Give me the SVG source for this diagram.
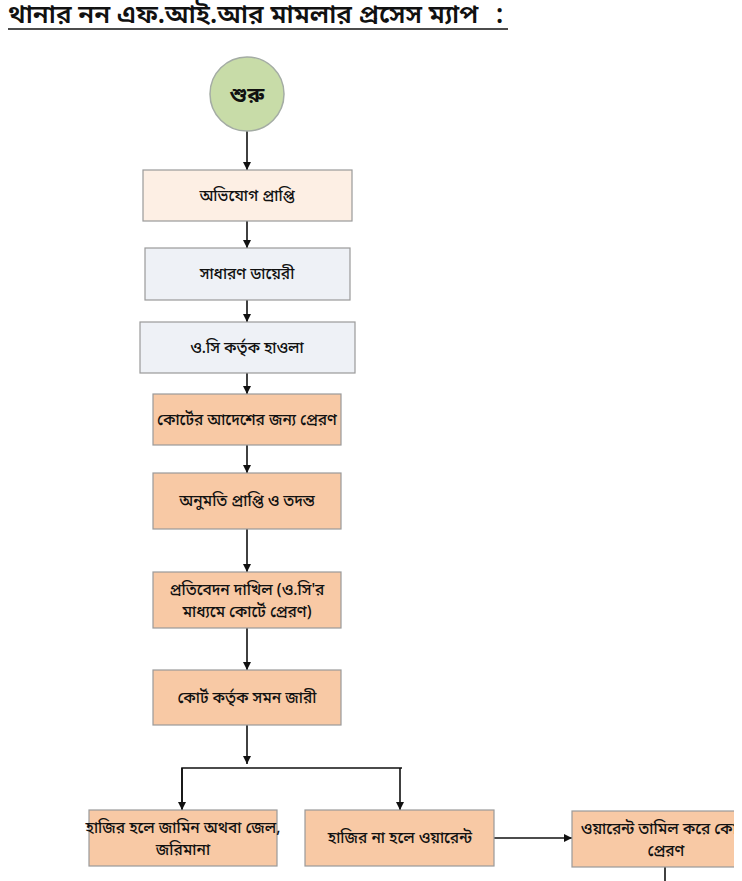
<svg xmlns="http://www.w3.org/2000/svg" width="742" height="881" viewBox="0 0 742 881">
<style>
  text { font-family: "Noto Sans Bengali", "Noto Serif Bengali", "Noto Sans", "DejaVu Sans", sans-serif; fill: #111; text-anchor: middle; }
  .title { font-size: 26px; text-anchor: start; font-weight: 600; }
  .lbl { font-size: 15.5px; font-weight: 500; }
  .box-cream { fill: #fdefe4; stroke: #9a9a9a; stroke-width: 1.2; }
  .box-blue { fill: #eef1f6; stroke: #9a9a9a; stroke-width: 1.2; }
  .box-peach { fill: #f8c9a5; stroke: #9a9a9a; stroke-width: 1.2; }
  .conn { stroke: #111; stroke-width: 1.6; fill: none; }
</style>
<defs>
  <marker id="arr" viewBox="0 0 10 10" refX="10" refY="5" markerWidth="8" markerHeight="8" markerUnits="userSpaceOnUse" orient="auto">
    <path d="M0,0 L10,5 L0,10 z" fill="#111"/>
  </marker>
  <clipPath id="edge"><rect x="0" y="0" width="734" height="881"/></clipPath>
</defs>
<rect x="0" y="0" width="742" height="881" fill="#ffffff"/>

<g id="title">
  <text class="title" x="8" y="23">থানার নন এফ.আই.আর মামলার প্রসেস ম্যাপ</text>
  <text class="title" x="496" y="23">:</text>
  <line x1="8" y1="29" x2="508" y2="29" stroke="#111" stroke-width="1.4"/>
</g>

<g id="connectors">
  <line class="conn" x1="247" y1="131" x2="247" y2="170" marker-end="url(#arr)"/>
  <line class="conn" x1="247" y1="221" x2="247" y2="248" marker-end="url(#arr)"/>
  <line class="conn" x1="247" y1="300" x2="247" y2="322" marker-end="url(#arr)"/>
  <line class="conn" x1="247" y1="373" x2="247" y2="394" marker-end="url(#arr)"/>
  <line class="conn" x1="247" y1="445" x2="247" y2="473" marker-end="url(#arr)"/>
  <line class="conn" x1="247" y1="529" x2="247" y2="572" marker-end="url(#arr)"/>
  <line class="conn" x1="247" y1="628" x2="247" y2="670" marker-end="url(#arr)"/>
  <line class="conn" x1="247" y1="725" x2="247" y2="764" marker-end="url(#arr)"/>
  <polyline class="conn" points="182,810 182,768 402,768"/>
  <line class="conn" x1="182" y1="768" x2="182" y2="810" marker-end="url(#arr)"/>
  <line class="conn" x1="400" y1="768" x2="400" y2="810" marker-end="url(#arr)"/>
  <line class="conn" x1="494" y1="838" x2="572" y2="838" marker-end="url(#arr)"/>
  <line class="conn" x1="665" y1="867" x2="665" y2="881"/>
</g>

<g id="start">
  <circle cx="247" cy="94" r="37" fill="#c8dca8" stroke="#a4aca4" stroke-width="1.5"/>
  <text x="247" y="102" style="font-size:21px;font-weight:700">শুরু</text>
</g>

<g id="n1">
  <rect class="box-cream" x="143" y="170" width="209" height="51"/>
  <text class="lbl" x="247" y="201">অভিযোগ প্রাপ্তি</text>
</g>
<g id="n2">
  <rect class="box-blue" x="145" y="248" width="205" height="52"/>
  <text class="lbl" x="247" y="279">সাধারণ ডায়েরী</text>
</g>
<g id="n3">
  <rect class="box-blue" x="140" y="322" width="215" height="51"/>
  <text class="lbl" x="247" y="353">ও.সি কর্তৃক হাওলা</text>
</g>
<g id="n4">
  <rect class="box-peach" x="153" y="394" width="188" height="51"/>
  <text class="lbl" x="247" y="425">কোর্টের আদেশের জন্য প্রেরণ</text>
</g>
<g id="n5">
  <rect class="box-peach" x="153" y="473" width="188" height="56"/>
  <text class="lbl" x="247" y="506">অনুমতি প্রাপ্তি ও তদন্ত</text>
</g>
<g id="n6">
  <rect class="box-peach" x="153" y="572" width="188" height="56"/>
  <text class="lbl" x="247" y="595">প্রতিবেদন দাখিল (ও.সি'র</text>
  <text class="lbl" x="247" y="617">মাধ্যমে কোর্টে প্রেরণ)</text>
</g>
<g id="n7">
  <rect class="box-peach" x="153" y="670" width="188" height="55"/>
  <text class="lbl" x="247" y="703">কোর্ট কর্তৃক সমন জারী</text>
</g>
<g id="n8">
  <rect class="box-peach" x="89" y="810" width="188" height="56"/>
  <text class="lbl" x="183" y="833">হাজির হলে জামিন অথবা জেল,</text>
  <text class="lbl" x="183" y="855">জরিমানা</text>
</g>
<g id="n9">
  <rect class="box-peach" x="305" y="810" width="189" height="56"/>
  <text class="lbl" x="400" y="843">হাজির না হলে ওয়ারেন্ট</text>
</g>
<g id="n10" clip-path="url(#edge)">
  <rect class="box-peach" x="572" y="811" width="188" height="56"/>
  <text class="lbl" x="666" y="834">ওয়ারেন্ট তামিল করে কোর্টে</text>
  <text class="lbl" x="666" y="856">প্রেরণ</text>
</g>
</svg>
